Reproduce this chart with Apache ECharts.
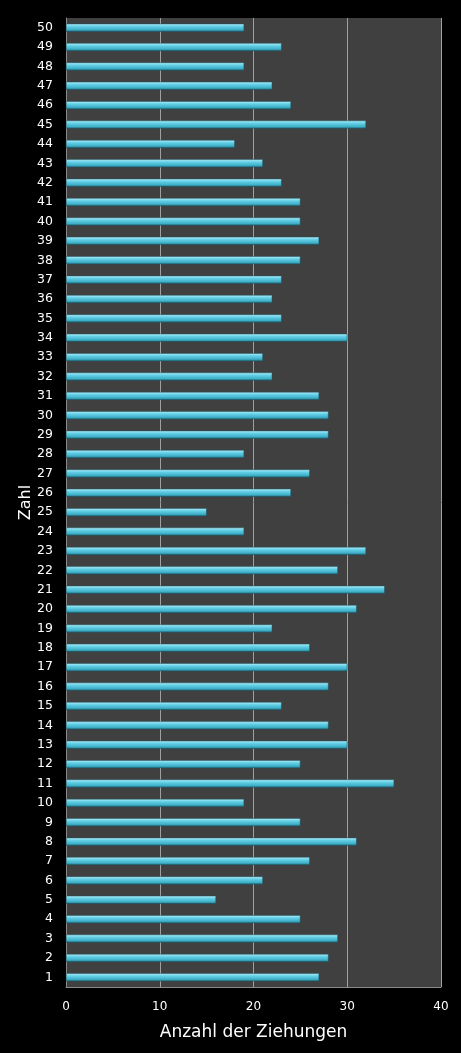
<!DOCTYPE html>
<html><head><meta charset="utf-8">
<script src="https://cdn.jsdelivr.net/npm/echarts@6/dist/echarts.min.js"></script>
<style>html,body{margin:0;padding:0;background:#000;}#c{width:461px;height:1053px;}</style>
</head><body><div id="c"></div>
<script>
const categories = [];
for (let i = 1; i <= 50; i++) categories.push(String(i));
const counts = [27,28,29,25,16,21,26,31,25,19,
                35,25,30,28,23,28,30,26,22,31,
                34,29,32,19,15,24,26,19,28,28,
                27,22,21,30,23,22,23,25,27,25,
                25,23,21,18,32,24,22,19,23,19];
const xTicks = [0,10,20,30,40];
const xTitle = 'Anzahl der Ziehungen';
const yTitle = 'Zahl';

const chart = echarts.init(document.getElementById('c'));
chart.setOption({
  backgroundColor: '#000',
  animation: false,
  grid: {left: 66, right: 20, top: 18, bottom: 66, show: true, backgroundColor: '#404040', borderWidth: 0},
  xAxis: {
    type: 'value', min: xTicks[0], max: xTicks[xTicks.length-1], interval: 10,
    name: xTitle, nameLocation: 'middle', nameGap: 37,
    nameTextStyle: {color: '#fff', fontSize: 17, fontFamily: 'DejaVu Sans'},
    axisLine: {show: true, lineStyle: {color: '#8a8a8a', width: 1}},
    axisTick: {show: false},
    axisLabel: {color: '#fff', fontSize: 12, fontFamily: 'DejaVu Sans', margin: 14},
    splitLine: {show: true, lineStyle: {color: '#a0a0a0', width: 1}}
  },
  yAxis: {
    type: 'category', data: categories,
    name: yTitle, nameLocation: 'middle', nameGap: 32, nameRotate: 90, nameMoveOverlap: false,
    nameTextStyle: {color: '#fff', fontSize: 16, fontWeight: 'normal', fontFamily: 'DejaVu Sans'},
    axisLine: {show: true, lineStyle: {color: '#8a8a8a', width: 1}},
    axisTick: {show: false},
    axisLabel: {color: '#fff', fontSize: 12.5, fontFamily: 'DejaVu Sans', margin: 13, interval: 0},
    splitLine: {show: false}
  },
  series: [{
    type: 'bar', data: counts, barWidth: 8,
    itemStyle: {
      color: new echarts.graphic.LinearGradient(0,0,0,1,[
        {offset: 0, color: '#b8f0fa'},
        {offset: 0.35, color: '#62cfe6'},
        {offset: 0.75, color: '#3fb0c8'},
        {offset: 1, color: '#1f6d80'}
      ]),
      borderColor: '#1d5664', borderWidth: 0.5
    }
  }]
});
</script></body></html>
